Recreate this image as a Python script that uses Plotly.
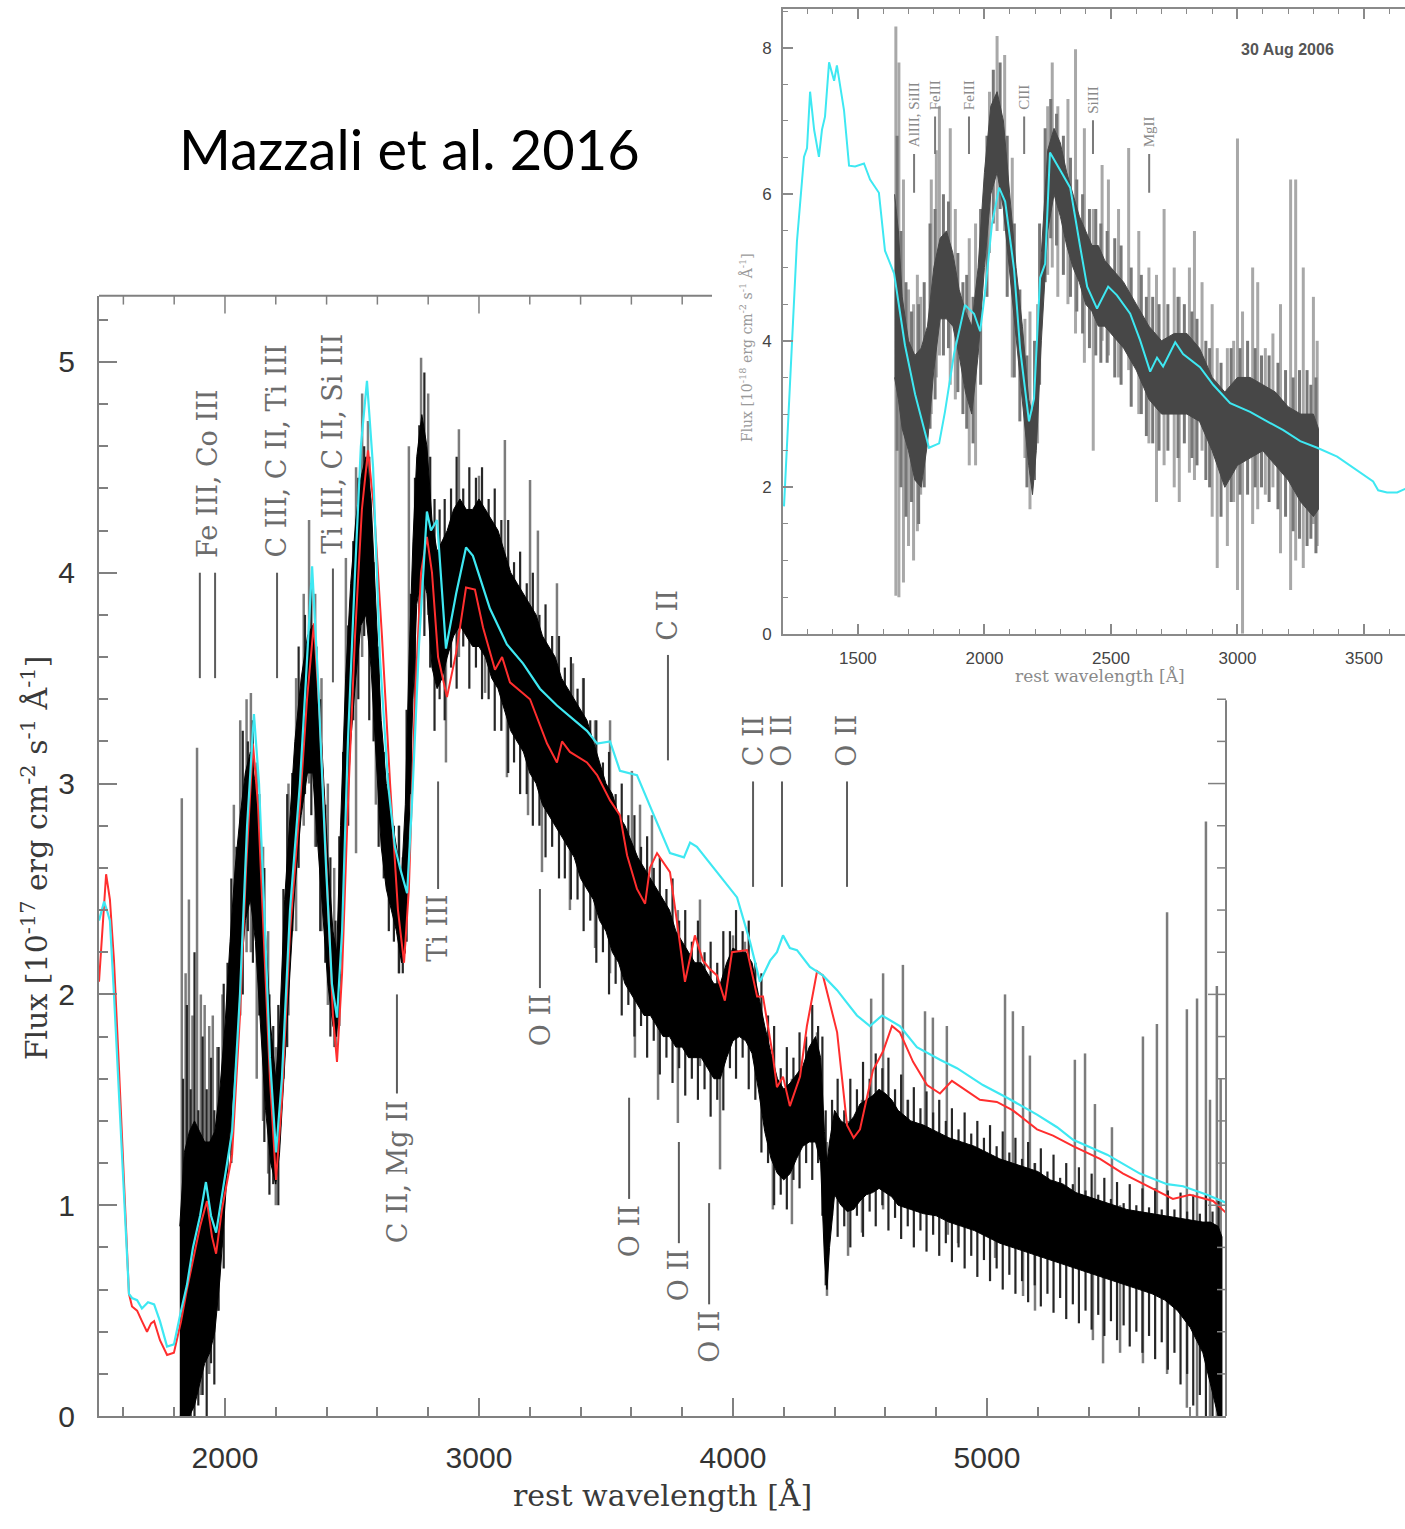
import plotly.graph_objects as go

W, H = 1405, 1529

# ---------------- main panel: observed spectrum (dense band + noisy spikes) ----------------
band_wl = [1822, 1840, 1860, 1880, 1900, 1920, 1940, 1960, 1980, 2000,
           2020, 2040, 2060, 2080, 2100, 2120, 2140, 2160, 2180, 2200,
           2215, 2235, 2255, 2275, 2300, 2325, 2345, 2365, 2385, 2405,
           2425, 2440, 2455, 2475, 2495, 2515, 2535, 2555, 2575, 2595,
           2615, 2635, 2655, 2675, 2695, 2710, 2725, 2740, 2755, 2775,
           2795, 2815, 2835, 2855, 2875, 2900, 2925, 2950, 2975, 3000,
           3025, 3050, 3075, 3100, 3125, 3150, 3175, 3200, 3225, 3250,
           3275, 3300, 3325, 3350, 3375, 3400, 3425, 3450, 3475, 3500,
           3525, 3550, 3575, 3600, 3625, 3650, 3675, 3700, 3725, 3750,
           3775, 3800, 3825, 3850, 3875, 3900, 3925, 3950, 3975, 4000,
           4025, 4050, 4075, 4100, 4125, 4150, 4175, 4200, 4225, 4250,
           4275, 4300, 4325, 4345, 4360, 4370, 4380, 4400, 4425, 4450,
           4475, 4500, 4525, 4550, 4575, 4600, 4625, 4650, 4700, 4750,
           4800, 4850, 4900, 4950, 5000, 5050, 5100, 5150, 5200, 5250,
           5300, 5350, 5400, 5450, 5500, 5550, 5600, 5650, 5700, 5750,
           5800, 5850, 5880, 5910, 5925]
band_lo = [0.00, 0.00, 0.00, 0.05, 0.15, 0.25, 0.30, 0.40, 0.65, 0.95,
           1.30, 1.70, 2.05, 2.35, 2.45, 2.25, 1.85, 1.45, 1.20, 1.10,
           1.25, 1.70, 2.10, 2.50, 2.85, 3.05, 3.05, 2.75, 2.40, 2.05,
           1.85, 1.80, 2.10, 2.70, 3.20, 3.50, 3.75, 3.80, 3.55, 3.10,
           2.70, 2.50, 2.40, 2.30, 2.15, 2.20, 2.80, 3.40, 3.85, 4.00,
           3.90, 3.55, 3.45, 3.50, 3.60, 3.70, 3.75, 3.70, 3.65, 3.65,
           3.60, 3.50, 3.45, 3.35, 3.25, 3.20, 3.15, 3.05, 3.00, 2.90,
           2.85, 2.80, 2.75, 2.70, 2.65, 2.55, 2.50, 2.45, 2.35, 2.30,
           2.20, 2.15, 2.05, 2.00, 1.95, 1.90, 1.90, 1.85, 1.80, 1.80,
           1.75, 1.75, 1.70, 1.70, 1.70, 1.65, 1.60, 1.60, 1.70, 1.78,
           1.80, 1.78, 1.72, 1.55, 1.35, 1.22, 1.15, 1.12, 1.15, 1.22,
           1.28, 1.30, 1.30, 1.20, 0.75, 0.60, 0.80, 1.05, 1.00, 0.97,
           0.98, 1.02, 1.05, 1.06, 1.08, 1.06, 1.04, 1.00, 0.98, 0.96,
           0.95, 0.92, 0.90, 0.88, 0.85, 0.82, 0.80, 0.78, 0.76, 0.74,
           0.72, 0.70, 0.68, 0.66, 0.64, 0.62, 0.60, 0.58, 0.55, 0.50,
           0.42, 0.30, 0.15, 0.00, 0.00]
band_hi = [0.90, 1.25, 1.35, 1.40, 1.35, 1.30, 1.30, 1.35, 1.55, 1.85,
           2.25, 2.60, 2.85, 3.05, 3.15, 3.00, 2.70, 2.25, 1.85, 1.60,
           1.85, 2.45, 2.85, 3.20, 3.50, 3.70, 3.75, 3.50, 3.10, 2.65,
           2.30, 2.20, 2.80, 3.50, 3.95, 4.25, 4.45, 4.55, 4.35, 3.85,
           3.30, 3.00, 2.85, 2.70, 2.55, 2.90, 3.60, 4.15, 4.55, 4.75,
           4.60, 4.25, 4.10, 4.15, 4.20, 4.30, 4.35, 4.30, 4.30, 4.35,
           4.30, 4.25, 4.20, 4.10, 4.00, 3.95, 3.90, 3.85, 3.80, 3.70,
           3.65, 3.60, 3.50, 3.45, 3.40, 3.35, 3.30, 3.20, 3.10, 3.00,
           2.95, 2.85, 2.80, 2.72, 2.65, 2.60, 2.55, 2.50, 2.45, 2.40,
           2.30, 2.25, 2.20, 2.15, 2.15, 2.10, 2.05, 2.05, 2.15, 2.22,
           2.20, 2.20, 2.15, 2.00, 1.85, 1.72, 1.60, 1.55, 1.58, 1.62,
           1.66, 1.75, 1.80, 1.70, 1.35, 1.20, 1.30, 1.45, 1.40, 1.38,
           1.42, 1.48, 1.50, 1.52, 1.55, 1.53, 1.50, 1.45, 1.40, 1.38,
           1.35, 1.32, 1.30, 1.28, 1.25, 1.22, 1.20, 1.18, 1.16, 1.12,
           1.10, 1.06, 1.04, 1.02, 1.00, 0.98, 0.97, 0.96, 0.95, 0.94,
           0.93, 0.92, 0.92, 0.90, 0.85]

# dark pixel-to-pixel scatter just outside the dense band
edge_wl = [1835, 1850, 1865, 1880, 1895, 1912, 1928, 1945, 1958, 1975,
           1995, 2010, 2025, 2045, 2070, 2090, 2110, 2135, 2155, 2175,
           2190, 2210, 2230, 2245, 2265, 2290, 2315, 2340, 2360, 2375,
           2395, 2415, 2435, 2450, 2465, 2485, 2505, 2525, 2548, 2568,
           2585, 2605, 2625, 2645, 2665, 2685, 2700, 2715, 2732, 2748,
           2765, 2785, 2808, 2825, 2845, 2865, 2890, 2912, 2938, 2962,
           2988, 3012, 3038, 3062, 3088, 3115, 3138, 3162, 3188, 3212,
           3238, 3262, 3288, 3315, 3338, 3362, 3388, 3412, 3438, 3462,
           3488, 3512, 3538, 3562, 3588, 3612, 3638, 3662, 3688, 3712,
           3738, 3762, 3788, 3812, 3838, 3862, 3888, 3912, 3938, 3962,
           3988, 4012, 4038, 4062, 4088, 4112, 4138, 4162, 4188, 4212,
           4238, 4262, 4288, 4312, 4335, 4352, 4365, 4390, 4412, 4438,
           4462, 4488, 4512, 4538, 4562, 4588, 4612, 4638, 4662, 4688,
           4712, 4738, 4762, 4788, 4812, 4838, 4862, 4888, 4912, 4938,
           4962, 4988, 5012, 5038, 5062, 5088, 5112, 5138, 5162, 5188,
           5212, 5238, 5262, 5288, 5312, 5338, 5362, 5388, 5412, 5438,
           5462, 5488, 5512, 5538, 5562, 5588, 5612, 5638, 5662, 5688,
           5712, 5738, 5762, 5788, 5812, 5838, 5862, 5888, 5912]
edge_lo = [0.00, 0.00, 0.00, 0.00, 0.05, 0.10, 0.00, 0.25, 0.15, 0.50,
           0.70, 1.15, 1.20, 1.65, 2.00, 2.30, 2.15, 1.90, 1.30, 1.05,
           1.10, 1.00, 1.60, 1.75, 2.30, 2.60, 2.95, 2.85, 2.70, 2.30,
           2.15, 1.80, 1.75, 1.85, 2.40, 2.80, 3.30, 3.40, 3.70, 3.30,
           3.20, 2.70, 2.55, 2.30, 2.25, 2.10, 2.10, 2.25, 2.95, 3.30,
           3.75, 3.70, 3.55, 3.25, 3.40, 3.30, 3.55, 3.45, 3.65, 3.45,
           3.55, 3.40, 3.40, 3.25, 3.25, 3.05, 3.10, 2.95, 2.95, 2.80,
           2.80, 2.65, 2.70, 2.55, 2.55, 2.45, 2.45, 2.30, 2.35, 2.15,
           2.20, 2.00, 2.05, 1.90, 1.95, 1.80, 1.85, 1.70, 1.78, 1.62,
           1.70, 1.58, 1.65, 1.52, 1.60, 1.50, 1.55, 1.42, 1.50, 1.45,
           1.65, 1.60, 1.70, 1.55, 1.50, 1.25, 1.20, 1.00, 1.05, 0.98,
           1.12, 1.08, 1.20, 1.12, 1.20, 0.95, 0.62, 0.95, 0.85, 0.90,
           0.80, 0.95, 0.85, 0.97, 0.90, 1.00, 0.88, 0.94, 0.84, 0.90,
           0.80, 0.88, 0.78, 0.86, 0.76, 0.82, 0.73, 0.80, 0.70, 0.76,
           0.66, 0.74, 0.64, 0.70, 0.60, 0.67, 0.58, 0.64, 0.54, 0.62,
           0.52, 0.58, 0.49, 0.56, 0.46, 0.53, 0.44, 0.50, 0.41, 0.48,
           0.38, 0.45, 0.36, 0.43, 0.33, 0.40, 0.30, 0.38, 0.27, 0.35,
           0.22, 0.30, 0.15, 0.20, 0.05, 0.10, 0.00, 0.00, 0.00]
edge_hi = [1.60, 1.95, 1.55, 2.20, 1.45, 1.80, 1.55, 1.70, 1.45, 1.75,
           2.05, 2.15, 2.55, 2.70, 3.25, 3.20, 3.30, 2.95, 2.60, 2.00,
           1.85, 1.95, 2.50, 2.95, 3.05, 3.65, 3.80, 3.95, 3.65, 3.40,
           2.90, 2.65, 2.35, 2.75, 3.15, 3.75, 4.15, 4.45, 4.60, 4.55,
           4.05, 3.65, 3.15, 3.05, 2.80, 2.80, 2.65, 3.35, 3.90, 4.45,
           4.70, 4.95, 4.55, 4.35, 4.30, 4.35, 4.40, 4.55, 4.40, 4.50,
           4.45, 4.50, 4.35, 4.40, 4.25, 4.25, 4.05, 4.10, 3.95, 4.00,
           3.80, 3.85, 3.70, 3.70, 3.55, 3.60, 3.45, 3.50, 3.30, 3.30,
           3.10, 3.15, 2.95, 3.00, 2.85, 2.85, 2.70, 2.75, 2.60, 2.65,
           2.50, 2.55, 2.35, 2.40, 2.25, 2.35, 2.20, 2.25, 2.15, 2.30,
           2.30, 2.40, 2.30, 2.35, 2.15, 2.10, 1.90, 1.85, 1.65, 1.75,
           1.70, 1.82, 1.80, 1.95, 1.85, 1.80, 1.45, 1.50, 1.60, 1.45,
           1.60, 1.55, 1.68, 1.60, 1.72, 1.65, 1.70, 1.55, 1.62, 1.50,
           1.56, 1.46, 1.54, 1.44, 1.50, 1.40, 1.46, 1.36, 1.44, 1.34,
           1.40, 1.32, 1.38, 1.28, 1.35, 1.25, 1.32, 1.22, 1.30, 1.20,
           1.27, 1.16, 1.24, 1.13, 1.20, 1.10, 1.18, 1.07, 1.15, 1.05,
           1.13, 1.03, 1.11, 1.01, 1.10, 1.00, 1.08, 0.99, 1.08, 0.98,
           1.07, 0.98, 1.06, 0.97, 1.05, 0.96, 1.05, 0.97, 1.02]

spike_wl = [1830, 1845, 1858, 1872, 1890, 1905, 1920, 1938, 1952, 1970,
            1990, 2035, 2060, 2085, 2102, 2125, 2150, 2170, 2200, 2250,
            2280, 2310, 2331, 2355, 2380, 2405, 2430, 2476, 2516, 2540,
            2563, 2594, 2685, 2724, 2772, 2800, 2870, 2921, 3000, 3024,
            3102, 3110, 3193, 3201, 3232, 3248, 3307, 3358, 3370, 3410,
            3457, 3516, 3602, 3614, 3634, 3681, 3705, 3783, 3870, 3949,
            4000, 4047, 4157, 4232, 4331, 4370, 4453, 4508, 4544, 4591,
            4669, 4689, 4756, 4787, 4842, 4846, 4886, 5032, 5071, 5102,
            5142, 5169, 5189, 5346, 5386, 5417, 5425, 5457, 5492, 5524,
            5614, 5669, 5709, 5787, 5827, 5862, 5878, 5905, 5920]
spike_lo = [0.00, 0.00, 0.00, 0.10, 0.15, 0.10, 0.30, 0.20, 0.40, 0.50,
            0.80, 1.50, 1.90, 2.20, 2.20, 1.60, 1.40, 1.15, 1.00, 1.90,
            2.30, 2.80, 3.00, 2.70, 2.30, 1.95, 1.75, 3.10, 2.67, 3.60,
            3.78, 2.90, 2.10, 3.00, 3.90, 3.80, 3.10, 3.60, 3.70, 3.43,
            3.40, 3.03, 2.85, 3.50, 3.40, 2.58, 3.10, 2.40, 2.90, 2.80,
            2.22, 2.10, 2.10, 1.70, 2.20, 2.10, 1.50, 1.39, 1.66, 1.17,
            1.80, 1.90, 0.98, 0.91, 1.40, 0.57, 0.76, 0.87, 1.10, 0.98,
            1.20, 1.04, 1.10, 1.10, 1.00, 0.86, 0.82, 0.75, 1.00, 1.00,
            0.57, 0.90, 0.50, 0.90, 0.85, 0.36, 0.80, 0.25, 0.80, 0.30,
            0.25, 0.60, 0.20, 0.04, 0.00, 0.30, 0.00, 0.00, 0.00]
spike_hi = [2.93, 2.10, 2.45, 1.90, 3.17, 2.00, 1.95, 1.85, 1.90, 1.75,
            2.00, 2.90, 3.30, 3.40, 3.43, 3.10, 2.70, 2.30, 1.75, 3.00,
            3.50, 3.90, 4.25, 3.90, 3.50, 3.00, 2.60, 4.07, 4.50, 4.85,
            4.72, 3.40, 2.80, 4.60, 5.02, 4.85, 4.10, 4.68, 4.46, 4.30,
            4.63, 3.80, 3.80, 4.44, 4.20, 3.40, 3.95, 3.20, 3.57, 3.50,
            3.30, 3.30, 3.06, 2.50, 2.90, 2.85, 2.30, 2.40, 2.45, 2.00,
            2.28, 2.25, 1.70, 1.60, 1.82, 1.30, 1.40, 1.50, 1.98, 2.10,
            2.14, 1.50, 1.92, 1.89, 1.85, 1.30, 1.30, 1.20, 2.00, 1.92,
            1.85, 1.71, 1.20, 1.69, 1.72, 1.00, 1.48, 1.00, 1.37, 1.00,
            1.80, 1.86, 2.39, 1.93, 1.98, 2.82, 1.50, 2.04, 1.60]

# ---------------- main panel: synthetic spectra ----------------
red_wl = [1504, 1532, 1547, 1563, 1583, 1610, 1622, 1634, 1654, 1673,
          1693, 1709, 1721, 1744, 1772, 1799, 1827, 1850, 1870, 1902,
          1929, 1949, 1965, 1988, 2028, 2059, 2083, 2110, 2130, 2154,
          2177, 2201, 2224, 2256, 2295, 2323, 2350, 2374, 2402, 2425,
          2441, 2461, 2484, 2512, 2539, 2563, 2587, 2618, 2650, 2681,
          2705, 2724, 2748, 2772, 2795, 2815, 2839, 2874, 2910, 2949,
          2984, 3016, 3063, 3091, 3122, 3201, 3268, 3307, 3327, 3358,
          3425, 3465, 3516, 3555, 3583, 3622, 3654, 3673, 3701, 3752,
          3780, 3811, 3850, 3882, 3909, 3937, 3968, 3996, 4055, 4095,
          4118, 4157, 4173, 4197, 4224, 4264, 4291, 4331, 4354, 4410,
          4449, 4475, 4500, 4551, 4591, 4626, 4657, 4709, 4764, 4815,
          4862, 4921, 4972, 5039, 5102, 5197, 5260, 5339, 5445, 5536,
          5669, 5732, 5799, 5890, 5945]
red_flux = [2.06, 2.57, 2.45, 2.16, 1.64, 0.95, 0.58, 0.52, 0.50, 0.45,
            0.40, 0.44, 0.45, 0.36, 0.29, 0.30, 0.45, 0.60, 0.72, 0.90,
            1.02, 0.85, 0.77, 0.98, 1.24, 1.90, 2.60, 3.19, 2.90, 2.20,
            1.60, 1.12, 1.50, 2.30, 2.90, 3.40, 3.76, 3.30, 2.50, 1.90,
            1.68, 2.10, 2.90, 3.70, 4.30, 4.58, 4.30, 3.70, 3.00, 2.40,
            2.15, 2.50, 3.40, 4.00, 4.17, 4.00, 3.60, 3.41, 3.62, 3.93,
            3.92, 3.74, 3.54, 3.60, 3.48, 3.40, 3.19, 3.10, 3.20, 3.15,
            3.10, 3.04, 2.92, 2.85, 2.66, 2.50, 2.43, 2.60, 2.67, 2.58,
            2.34, 2.06, 2.28, 2.16, 2.12, 2.09, 1.97, 2.20, 2.21, 1.99,
            1.99, 1.71, 1.56, 1.61, 1.47, 1.61, 1.85, 2.11, 2.09, 1.82,
            1.38, 1.32, 1.36, 1.64, 1.73, 1.85, 1.82, 1.68, 1.57, 1.53,
            1.59, 1.54, 1.50, 1.49, 1.45, 1.36, 1.33, 1.28, 1.22, 1.15,
            1.07, 1.03, 1.05, 1.02, 0.96]

cyan_wl = [1504, 1524, 1535, 1547, 1563, 1583, 1610, 1622, 1634, 1654,
           1673, 1697, 1721, 1744, 1772, 1799, 1827, 1850, 1874, 1902,
           1925, 1945, 1965, 1988, 2028, 2059, 2087, 2114, 2134, 2158,
           2177, 2201, 2224, 2256, 2295, 2319, 2343, 2366, 2398, 2421,
           2441, 2461, 2484, 2512, 2535, 2559, 2583, 2610, 2642, 2669,
           2689, 2717, 2736, 2764, 2795, 2811, 2835, 2870, 2910, 2949,
           2976, 3043, 3110, 3173, 3240, 3307, 3358, 3425, 3465, 3516,
           3555, 3622, 3685, 3752, 3807, 3831, 3858, 3937, 4016, 4067,
           4106, 4146, 4173, 4197, 4224, 4252, 4303, 4354, 4410, 4449,
           4488, 4539, 4587, 4657, 4724, 4815, 4882, 4984, 5079, 5197,
           5276, 5339, 5473, 5602, 5709, 5772, 5866, 5945]
cyan_flux = [2.35, 2.44, 2.40, 2.35, 2.00, 1.50, 0.85, 0.58, 0.56, 0.55,
             0.51, 0.54, 0.53, 0.45, 0.33, 0.34, 0.50, 0.62, 0.80, 0.95,
             1.11, 0.95, 0.87, 1.05, 1.35, 2.00, 2.80, 3.33, 3.00, 2.30,
             1.70, 1.25, 1.60, 2.40, 3.00, 3.50, 4.03, 3.50, 2.60, 2.05,
             1.89, 2.30, 3.20, 4.00, 4.60, 4.91, 4.50, 3.60, 3.00, 2.70,
             2.60, 2.48, 2.90, 3.66, 4.29, 4.20, 4.25, 3.64, 3.90, 4.12,
             4.08, 3.83, 3.66, 3.57, 3.45, 3.37, 3.32, 3.25, 3.19, 3.20,
             3.06, 3.04, 2.86, 2.67, 2.65, 2.72, 2.70, 2.58, 2.46, 2.25,
             2.06, 2.16, 2.20, 2.28, 2.22, 2.21, 2.13, 2.09, 2.02, 1.96,
             1.90, 1.85, 1.90, 1.85, 1.75, 1.69, 1.65, 1.57, 1.51, 1.43,
             1.37, 1.31, 1.24, 1.15, 1.10, 1.09, 1.05, 1.01]

# ---------------- inset (30 Aug 2006) ----------------
in_band_wl = [1645, 1660, 1675, 1700, 1725, 1750, 1775, 1800, 1825, 1850,
              1875, 1900, 1925, 1950, 1975, 2000, 2025, 2050, 2075, 2100,
              2125, 2150, 2175, 2190, 2205, 2225, 2250, 2275, 2300, 2325,
              2350, 2375, 2400, 2425, 2450, 2475, 2500, 2550, 2600, 2650,
              2700, 2750, 2800, 2850, 2900, 2950, 3000, 3050, 3100, 3150,
              3200, 3250, 3300, 3320]
in_band_lo = [3.5, 3.2, 2.8, 2.5, 2.1, 2.0, 2.6, 3.6, 4.3, 4.3,
              4.2, 3.8, 3.3, 3.0, 3.8, 5.0, 6.0, 6.3, 5.8, 5.0,
              4.0, 3.2, 2.3, 1.9, 2.5, 4.0, 5.5, 6.0, 5.7, 5.3,
              5.0, 4.8, 4.5, 4.4, 4.2, 4.2, 4.1, 3.9, 3.6, 3.2,
              3.0, 3.0, 3.0, 2.9, 2.5, 2.0, 2.3, 2.4, 2.5, 2.3,
              2.1, 1.8, 1.6, 1.7]
in_band_hi = [6.0, 5.5, 4.6, 4.0, 3.8, 3.9, 4.2, 5.0, 5.4, 5.5,
              5.2, 4.7, 4.4, 4.2, 5.0, 6.3, 7.2, 7.4, 7.0, 6.0,
              5.0, 4.2, 3.2, 3.0, 3.7, 5.2, 6.6, 6.9, 6.7, 6.3,
              6.0, 5.7, 5.5, 5.3, 5.3, 5.1, 5.0, 4.8, 4.5, 4.2,
              4.0, 4.1, 4.1, 3.9, 3.5, 3.3, 3.5, 3.5, 3.4, 3.3,
              3.1, 3.0, 3.0, 2.8]

in_edge_wl = [1655, 1670, 1690, 1712, 1740, 1762, 1785, 1805, 1838, 1858,
              1895, 1915, 1930, 1955, 1985, 2010, 2035, 2062, 2090, 2118,
              2140, 2168, 2198, 2218, 2240, 2262, 2285, 2312, 2340, 2365,
              2388, 2415, 2440, 2460, 2485, 2515, 2540, 2580, 2620, 2640,
              2665, 2690, 2725, 2765, 2790, 2820, 2840, 2875, 2890, 2935,
              2975, 3010, 3040, 3070, 3095, 3125, 3160, 3190, 3220, 3245,
              3275, 3290, 3310]
in_edge_lo = [2.5, 2.0, 1.6, 1.8, 1.5, 2.0, 2.8, 3.2, 3.8, 3.9,
              3.3, 3.0, 2.8, 2.6, 3.4, 4.6, 5.6, 5.8, 4.6, 3.5,
              2.9, 2.0, 2.1, 3.4, 4.8, 5.4, 5.3, 4.9, 4.6, 4.4,
              4.1, 3.9, 3.8, 3.7, 3.7, 3.5, 3.4, 3.1, 3.0, 2.7,
              2.6, 2.5, 2.5, 2.4, 2.6, 2.4, 2.3, 2.1, 2.0, 1.6,
              1.8, 1.9, 1.9, 2.0, 2.0, 1.8, 1.7, 1.6, 1.4, 1.3,
              1.2, 1.3, 1.1]
in_edge_hi = [6.8, 5.5, 4.8, 4.4, 4.5, 4.8, 5.6, 5.8, 6.0, 5.9,
              5.2, 4.8, 4.9, 4.6, 5.8, 6.8, 7.7, 7.8, 6.8, 5.6,
              4.7, 3.8, 4.0, 5.6, 6.9, 7.3, 7.1, 6.8, 6.5, 6.2,
              6.0, 5.8, 5.8, 5.6, 5.5, 5.4, 5.3, 5.0, 4.9, 4.6,
              4.6, 4.5, 4.5, 4.6, 4.5, 4.4, 4.3, 4.0, 3.9, 3.7,
              3.9, 3.9, 4.0, 3.9, 3.8, 3.8, 3.7, 3.6, 3.5, 3.6,
              3.6, 3.4, 3.5]

in_spike_wl = [1650, 1662, 1680, 1700, 1720, 1735, 1748, 1790, 1810, 1822,
               1865, 1885, 1940, 1965, 2020, 2050, 2080, 2110, 2160, 2180,
               2210, 2250, 2268, 2290, 2330, 2360, 2395, 2430, 2465, 2490,
               2530, 2570, 2610, 2650, 2680, 2710, 2750, 2770, 2810, 2830,
               2860, 2900, 2920, 2960, 2985, 3000, 3020, 3060, 3080, 3110,
               3140, 3170, 3210, 3230, 3260, 3300, 3315]
in_spike_lo = [0.52, 0.50, 0.70, 1.20, 1.00, 1.40, 1.90, 3.00, 3.50, 3.80,
               3.40, 3.20, 2.30, 2.30, 5.20, 5.50, 5.50, 3.50, 2.40, 1.70,
               2.60, 4.90, 5.00, 4.60, 4.50, 4.10, 3.70, 2.50, 4.00, 3.80,
               3.50, 3.60, 3.00, 2.60, 1.80, 2.30, 2.00, 1.80, 2.20, 2.10,
               2.50, 1.60, 0.90, 1.20, 1.80, 0.60, 0.00, 1.50, 1.70, 1.90,
               2.00, 1.10, 0.60, 1.00, 0.90, 1.50, 1.20]
in_spike_hi = [8.29, 7.80, 6.20, 4.70, 4.50, 4.90, 4.60, 6.20, 6.60, 7.20,
               6.90, 5.80, 5.40, 5.60, 7.40, 8.16, 7.90, 6.50, 4.30, 4.40,
               4.50, 7.20, 7.80, 7.20, 7.30, 7.98, 6.90, 5.80, 6.40, 6.20,
               5.80, 6.63, 5.50, 5.00, 4.90, 5.80, 5.00, 4.60, 5.00, 5.50,
               4.80, 4.50, 3.90, 3.90, 4.00, 6.76, 4.40, 5.00, 4.80, 3.90,
               4.10, 4.50, 6.20, 6.20, 5.00, 4.60, 4.00]

in_cyan_wl = [1208, 1240, 1259, 1287, 1299, 1311, 1327, 1346, 1358, 1370,
              1386, 1406, 1417, 1445, 1465, 1489, 1524, 1548, 1583, 1607,
              1643, 1686, 1726, 1781, 1821, 1844, 1880, 1923, 1959, 1983,
              2003, 2030, 2058, 2082, 2117, 2141, 2176, 2196, 2220, 2240,
              2259, 2299, 2339, 2378, 2406, 2445, 2489, 2524, 2576, 2615,
              2655, 2682, 2706, 2754, 2785, 2852, 2904, 2971, 3050, 3117,
              3181, 3248, 3315, 3394, 3473, 3536, 3556, 3591, 3631, 3663]
in_cyan_flux = [1.74, 4.01, 5.35, 6.51, 6.63, 7.40, 6.88, 6.51, 6.88, 7.06,
                7.80, 7.55, 7.76, 7.15, 6.39, 6.38, 6.42, 6.20, 6.02, 5.23,
                4.92, 3.94, 3.27, 2.54, 2.60, 3.03, 3.82, 4.49, 4.37, 4.13,
                4.68, 5.60, 6.09, 5.90, 4.98, 3.89, 2.90, 3.21, 4.86, 5.05,
                6.57, 6.33, 6.09, 5.29, 4.74, 4.44, 4.74, 4.62, 4.37, 4.01,
                3.58, 3.77, 3.65, 3.98, 3.82, 3.64, 3.40, 3.15, 3.03, 2.90,
                2.78, 2.63, 2.54, 2.42, 2.23, 2.08, 1.96, 1.93, 1.93, 1.98]

# ---------------- line identifications ----------------
main_ids = ["Fe III, Co III", "C III, C II, Ti III", "Ti III, C II, Si III", "Ti III",
            "C II, Mg II", "O II", "C II", "C II", "O II", "O II", "O II", "O II", "O II"]
main_id_wl = [1929, 2205, 2425, 2839, 2677, 3240, 3744, 4079, 4193, 4449, 3591, 3787, 3906]
main_id_marks = [[1901, 1961], [2205], [2425], [2839], [2677], [3240], [3744],
                 [4079], [4193], [4449], [3591], [3787], [3906]]

inset_ids = ["AlIII, SiIII", "FeIII", "FeIII", "CIII", "SiIII", "MgII"]
inset_id_wl = [1722, 1805, 1939, 2157, 2429, 2651]

# vertical placement of the identification ticks: (bottom, top, label side)
main_id_place = [(3.50, 4.00, "above"), (3.50, 4.00, "above"), (3.48, 4.02, "above"),
                 (2.50, 3.01, "below"), (1.53, 2.00, "below"), (2.03, 2.50, "below"),
                 (3.11, 3.61, "above"), (2.51, 3.01, "above"), (2.51, 3.01, "above"),
                 (2.51, 3.01, "above"), (1.03, 1.51, "below"), (0.82, 1.30, "below"),
                 (0.53, 1.01, "below")]
inset_id_place = [(6.02, 6.55), (6.55, 7.06), (6.55, 7.06), (6.55, 7.06), (6.55, 7.01), (6.02, 6.55)]


def segments(wl, lo, hi):
    xs, ys = [], []
    for w, a, b in zip(wl, lo, hi):
        xs += [w, w, None]
        ys += [a, b, None]
    return xs, ys


def add_segments(fig, wl, lo, hi, color, width, xa, ya):
    xs, ys = segments(wl, lo, hi)
    fig.add_trace(go.Scatter(x=xs, y=ys, mode="lines", line=dict(color=color, width=width),
                             hoverinfo="skip", xaxis=xa, yaxis=ya))


fig = go.Figure()

# main panel traces
add_segments(fig, spike_wl, spike_lo, spike_hi, "#7c7c7c", 2.5, "x", "y")
add_segments(fig, edge_wl, edge_lo, edge_hi, "#262626", 2.2, "x", "y")
fig.add_trace(go.Scatter(x=band_wl + band_wl[::-1], y=band_hi + band_lo[::-1], mode="lines",
                         fill="toself", fillcolor="black", line=dict(color="black", width=1),
                         hoverinfo="skip", xaxis="x", yaxis="y"))
fig.add_trace(go.Scatter(x=red_wl, y=red_flux, mode="lines", line=dict(color="#ff2e2e", width=2),
                         hoverinfo="skip", xaxis="x", yaxis="y"))
fig.add_trace(go.Scatter(x=cyan_wl, y=cyan_flux, mode="lines", line=dict(color="#3ee8f2", width=2.2),
                         hoverinfo="skip", xaxis="x", yaxis="y"))

# inset traces
add_segments(fig, in_spike_wl, in_spike_lo, in_spike_hi, "#a8a8a8", 3, "x2", "y2")
add_segments(fig, in_edge_wl, in_edge_lo, in_edge_hi, "#777777", 3, "x2", "y2")
fig.add_trace(go.Scatter(x=in_band_wl + in_band_wl[::-1], y=in_band_hi + in_band_lo[::-1],
                         mode="lines", fill="toself", fillcolor="#474747",
                         line=dict(color="#474747", width=1), hoverinfo="skip",
                         xaxis="x2", yaxis="y2"))
fig.add_trace(go.Scatter(x=in_cyan_wl, y=in_cyan_flux, mode="lines",
                         line=dict(color="#3ee8f2", width=2), hoverinfo="skip",
                         xaxis="x2", yaxis="y2"))

AX = "#808080"
shapes = []
annotations = []

# main frame: top edge and right edge stop where the inset panel begins
top_p = 1 - 299 / H
right_p = 1226 / W
shapes.append(dict(type="line", xref="paper", yref="paper", x0=99 / W, x1=712 / W,
                   y0=top_p, y1=top_p, line=dict(color=AX, width=2)))
shapes.append(dict(type="line", xref="paper", yref="paper", x0=right_p, x1=right_p,
                   y0=1 - 708 / H, y1=1 - 1432 / H, line=dict(color=AX, width=2)))
for w in range(1600, 3900, 200):
    ln = 18 if w % 1000 == 0 else 9
    shapes.append(dict(type="line", xref="x", yref="paper", x0=w, x1=w,
                       y0=top_p, y1=top_p - ln / H, line=dict(color=AX, width=1.5)))
for k in range(1, 18):
    v = k * 0.2
    ln = 18 if k % 5 == 0 else 9
    shapes.append(dict(type="line", xref="paper", yref="y", x0=right_p, x1=right_p - ln / W,
                       y0=v, y1=v, line=dict(color=AX, width=1.5)))

# main identifications
LBL_FONT = dict(family="DejaVu Serif", size=27, color="#6c6c6c")
for text, wl, marks, (ylo, yhi, side) in zip(main_ids, main_id_wl, main_id_marks, main_id_place):
    for m in marks:
        shapes.append(dict(type="line", xref="x", yref="y", x0=m, x1=m, y0=ylo, y1=yhi,
                           line=dict(color="#5c5c5c", width=2)))
    if side == "above":
        annotations.append(dict(x=wl, y=yhi + 0.06, xref="x", yref="y", text=text, textangle=-90,
                                showarrow=False, xanchor="center", yanchor="bottom", font=LBL_FONT))
    else:
        annotations.append(dict(x=wl, y=ylo - 0.02, xref="x", yref="y", text=text, textangle=-90,
                                showarrow=False, xanchor="center", yanchor="top", font=LBL_FONT))

# inset identifications
for text, wl, (ylo, yhi) in zip(inset_ids, inset_id_wl, inset_id_place):
    shapes.append(dict(type="line", xref="x2", yref="y2", x0=wl, x1=wl, y0=ylo, y1=yhi,
                       line=dict(color="#7a7a7a", width=2)))
    annotations.append(dict(x=wl, y=yhi + 0.06, xref="x2", yref="y2", text=text, textangle=-90,
                            showarrow=False, xanchor="center", yanchor="bottom",
                            font=dict(family="Liberation Serif", size=15, color="#8a8a8a")))

# titles and labels
annotations += [
    dict(x=177 / W, y=1 - 150 / H, xref="paper", yref="paper", text="Mazzali et al. 2016",
         showarrow=False, xanchor="left", yanchor="middle",
         font=dict(family="Lato", size=56, color="black")),
    dict(x=662 / W, y=1 - 1512 / H, xref="paper", yref="paper", text="rest wavelength [Å]",
         showarrow=False, xanchor="center", yanchor="middle",
         font=dict(family="DejaVu Serif", size=30, color="#3a3a3a")),
    dict(x=35 / W, y=1 - 868 / H, xref="paper", yref="paper", textangle=-90,
         text="Flux [10<sup>-17</sup> erg cm<sup>-2</sup> s<sup>-1</sup> Å<sup>-1</sup>]",
         showarrow=False, xanchor="center", yanchor="middle",
         font=dict(family="DejaVu Serif", size=30, color="#3a3a3a")),
    dict(x=1100 / W, y=1 - 684 / H, xref="paper", yref="paper", text="rest wavelength [Å]",
         showarrow=False, xanchor="center", yanchor="middle",
         font=dict(family="DejaVu Serif", size=17, color="#8a8a8a")),
    dict(x=746 / W, y=1 - 352 / H, xref="paper", yref="paper", textangle=-90,
         text="Flux [10<sup>-18</sup> erg cm<sup>-2</sup> s<sup>-1</sup> Å<sup>-1</sup>]",
         showarrow=False, xanchor="center", yanchor="middle",
         font=dict(family="DejaVu Serif", size=14, color="#9a9a9a")),
    dict(x=1287 / W, y=1 - 50 / H, xref="paper", yref="paper", text="<b>30 Aug 2006</b>",
         showarrow=False, xanchor="center", yanchor="middle",
         font=dict(family="Liberation Sans", size=16, color="#555555")),
]

TICKF = dict(family="Liberation Sans", size=30, color="#333333")
INF = dict(family="Liberation Sans", size=17, color="#444444")

fig.update_layout(
    width=W, height=H, margin=dict(l=0, r=0, t=0, b=0), autosize=False,
    paper_bgcolor="white", plot_bgcolor="white", showlegend=False,
    xaxis=dict(domain=[99 / W, 1226 / W], range=[1504, 5941], anchor="y",
               showline=True, linecolor=AX, linewidth=2, showgrid=False, zeroline=False,
               ticks="inside", ticklen=18, tickwidth=1.5, tickcolor=AX, tick0=0, dtick=1000,
               minor=dict(ticks="inside", ticklen=9, tickwidth=1.5, tickcolor=AX, tick0=0, dtick=200),
               tickfont=TICKF, ticklabelstandoff=14),
    yaxis=dict(domain=[1 - 1432 / H, 1 - 299 / H], range=[0, 5.314], anchor="x",
               showline=True, linecolor=AX, linewidth=2, showgrid=False, zeroline=False,
               ticks="inside", ticklen=18, tickwidth=1.5, tickcolor=AX, tick0=0, dtick=1,
               minor=dict(ticks="inside", ticklen=9, tickwidth=1.5, tickcolor=AX, tick0=0, dtick=0.2),
               tickfont=TICKF, ticklabelstandoff=16),
    xaxis2=dict(domain=[783 / W, 1.0], range=[1204, 3662], anchor="y2",
                showline=True, mirror="ticks", linecolor="#8a8a8a", linewidth=2,
                showgrid=False, zeroline=False, ticks="inside", ticklen=10, tickwidth=1.5,
                tickcolor="#8a8a8a", tick0=0, dtick=500,
                minor=dict(ticks="inside", ticklen=5, tickwidth=1.2, tickcolor="#8a8a8a", tick0=0, dtick=100),
                tickfont=INF, ticklabelstandoff=8),
    yaxis2=dict(domain=[1 - 641 / H, 1 - 9 / H], range=[0, 8.53], anchor="x2",
                showline=True, linecolor="#8a8a8a", linewidth=2, showgrid=False, zeroline=False,
                ticks="inside", ticklen=10, tickwidth=1.5, tickcolor="#8a8a8a", tick0=0, dtick=2,
                minor=dict(ticks="inside", ticklen=5, tickwidth=1.2, tickcolor="#8a8a8a", tick0=0, dtick=0.5),
                tickfont=INF, ticklabelstandoff=6),
    shapes=shapes, annotations=annotations,
)

fig.write_html("out.html")
